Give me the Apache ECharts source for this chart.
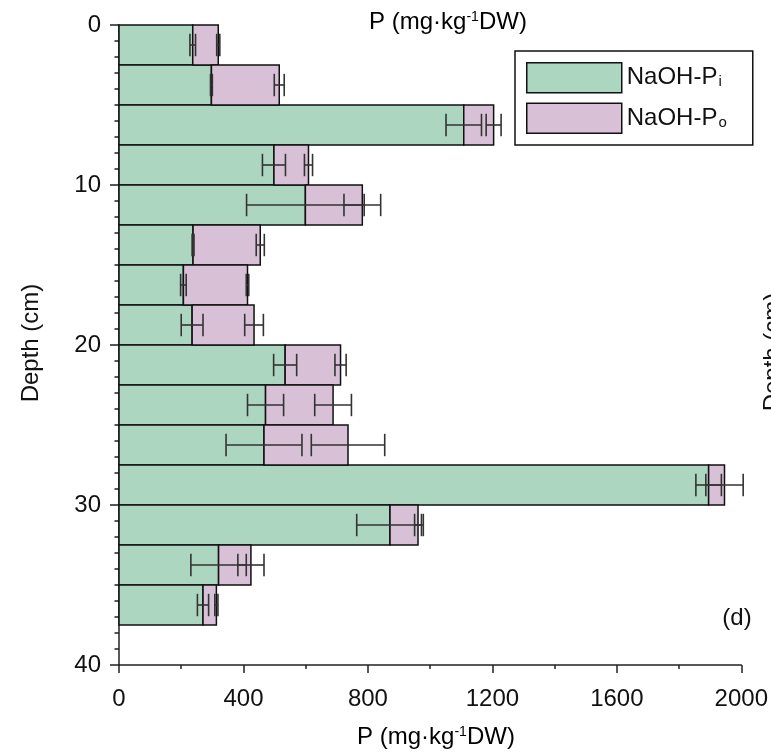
<!DOCTYPE html>
<html>
<head>
<meta charset="UTF-8">
<title>NaOH-P depth profile</title>
<script src="https://cdn.jsdelivr.net/npm/echarts@6/dist/echarts.min.js"></script>
<style>
  html, body { margin: 0; padding: 0; background: #fff; }
  #chart { width: 771px; height: 753px; }
</style>
</head>
<body>
<div id="chart"></div>
<script>
// top of each 2.5 cm layer
var depthTop = [0, 2.5, 5, 7.5, 10, 12.5, 15, 17.5, 20, 22.5, 25, 27.5, 30, 32.5, 35];
var layerThickness = 2.5;
// NaOH-Pi and NaOH-Po (mg/kg DW) with their error values
var naohPi = [237, 297, 1108, 498, 599, 238, 207, 235, 534, 471, 466, 1895, 871, 320, 270];
var naohPo = [82, 218, 96, 111, 183, 216, 206, 199, 178, 217, 270, 51, 90, 104, 43];
var piErr = [9, 3, 57, 37, 189, 3, 9, 35, 37, 58, 122, 41, 107, 89, 18];
var poErr = [5, 16, 24, 13, 59, 13, 4, 30, 18, 59, 118, 60, 11, 42, 5];
var xTicks = [0, 400, 800, 1200, 1600, 2000];
var yTicks = [0, 10, 20, 30, 40];

var FONT = '"Liberation Sans", Arial, sans-serif';

var piBars = [], poBars = [], piErrData = [], poErrData = [];
for (var i = 0; i < depthTop.length; i++) {
    var d = depthTop[i];
    var total = naohPi[i] + naohPo[i];
    piBars.push([0, naohPi[i], d, d + layerThickness]);
    poBars.push([naohPi[i], total, d, d + layerThickness]);
    piErrData.push([naohPi[i], piErr[i], d + layerThickness / 2]);
    poErrData.push([total, poErr[i], d + layerThickness / 2]);
}

function renderBar(params, api) {
    var p0 = api.coord([api.value(0), api.value(2)]);
    var p1 = api.coord([api.value(1), api.value(3)]);
    return {
        type: 'rect',
        shape: { x: p0[0], y: p0[1], width: p1[0] - p0[0], height: p1[1] - p0[1] },
        style: { fill: api.visual('color'), stroke: '#111', lineWidth: 1.5 }
    };
}

function renderErr(params, api) {
    var v = api.value(0), e = api.value(1), d = api.value(2);
    var a = api.coord([v - e, d]);
    var b = api.coord([v + e, d]);
    var cap = api.size([0, 0.7])[1];
    var st = { stroke: '#333', lineWidth: 1.6 };
    return {
        type: 'group',
        children: [
            { type: 'line', shape: { x1: a[0], y1: a[1], x2: b[0], y2: b[1] }, style: st },
            { type: 'line', shape: { x1: a[0], y1: a[1] - cap, x2: a[0], y2: a[1] + cap }, style: st },
            { type: 'line', shape: { x1: b[0], y1: b[1] - cap, x2: b[0], y2: b[1] + cap }, style: st }
        ]
    };
}

var unitRich = {
    n: { fontSize: 24, fontFamily: FONT, color: '#111' },
    sup: { fontSize: 14, fontFamily: FONT, color: '#111', verticalAlign: 'top' }
};

var chart = echarts.init(document.getElementById('chart'));
var option = {
    animation: false,
    grid: { left: 119, top: 25, width: 624, height: 640, containLabel: false },
    xAxis: {
        type: 'value', position: 'bottom', min: xTicks[0], max: xTicks[xTicks.length - 1], interval: 400,
        axisLine: { show: true, onZero: false, lineStyle: { color: '#222', width: 1.5 } },
        axisTick: { show: true, length: 8, lineStyle: { color: '#222', width: 1.5 } },
        minorTick: { show: true, splitNumber: 2, length: 4, lineStyle: { color: '#222', width: 1.5 } },
        splitLine: { show: false },
        axisLabel: { fontSize: 24, fontFamily: FONT, color: '#111', margin: 22, formatter: function (v) { return String(v); } }
    },
    yAxis: {
        type: 'value', inverse: true, min: yTicks[0], max: yTicks[yTicks.length - 1], interval: 10,
        axisLine: { show: true, onZero: false, lineStyle: { color: '#222', width: 1.5 } },
        axisTick: { show: true, length: 9, lineStyle: { color: '#222', width: 1.5 } },
        minorTick: { show: true, splitNumber: 10, length: 4.5, lineStyle: { color: '#222', width: 1.5 } },
        splitLine: { show: false },
        axisLabel: { fontSize: 24, fontFamily: FONT, color: '#111', margin: 18, padding: [8, 0, 0, 0], formatter: function (v) { return String(v); } }
    },
    legend: {
        data: ['NaOH-Pi', 'NaOH-Po'],
        orient: 'vertical',
        left: 515, top: 51,
        padding: [11, 26, 11, 11],
        itemWidth: 95, itemHeight: 30,
        itemGap: 9,
        icon: 'rect',
        borderColor: '#111', borderWidth: 1.5,
        itemStyle: { borderColor: '#111', borderWidth: 1.5 },
        formatter: function (name) {
            return '{n|NaOH-P}{s|' + (name === 'NaOH-Pi' ? 'i' : 'o') + '}';
        },
        textStyle: {
            rich: {
                n: { fontSize: 24, fontFamily: FONT, color: '#111', lineHeight: 24, verticalAlign: 'top' },
                s: { fontSize: 15, fontFamily: FONT, color: '#111', lineHeight: 15, verticalAlign: 'bottom', padding: [12, 0, 0, 1] }
            }
        }
    },
    graphic: [
        { type: 'text', style: { text: '{n|P (mg·kg}{sup|-1}{n|DW)}', rich: unitRich, x: 448, y: 22, align: 'center', verticalAlign: 'middle' } },
        { type: 'text', style: { text: '{n|P (mg·kg}{sup|-1}{n|DW)}', rich: unitRich, x: 436, y: 737, align: 'center', verticalAlign: 'middle' } },
        { type: 'text', x: 31, y: 343, rotation: Math.PI / 2, style: { text: 'Depth (cm)', fontSize: 24, fontFamily: FONT, fill: '#111', align: 'center', verticalAlign: 'middle' } },
        { type: 'text', x: 773, y: 352, rotation: Math.PI / 2, style: { text: 'Depth (cm)', fontSize: 24, fontFamily: FONT, fill: '#111', align: 'center', verticalAlign: 'middle' } },
        { type: 'text', style: { text: '(d)', x: 737, y: 618, fontSize: 24, fontFamily: FONT, fill: '#111', align: 'center', verticalAlign: 'middle' } }
    ],
    series: [
        { name: 'NaOH-Pi', type: 'custom', renderItem: renderBar, itemStyle: { color: '#add6c1' }, encode: { x: [0, 1], y: [2, 3] }, data: piBars, z: 2 },
        { name: 'NaOH-Po', type: 'custom', renderItem: renderBar, itemStyle: { color: '#d8c0d6' }, encode: { x: [0, 1], y: [2, 3] }, data: poBars, z: 2 },
        { name: 'Pi error', type: 'custom', renderItem: renderErr, encode: { x: 0, y: 2 }, data: piErrData, z: 3, silent: true },
        { name: 'Po error', type: 'custom', renderItem: renderErr, encode: { x: 0, y: 2 }, data: poErrData, z: 3, silent: true }
    ]
};
chart.setOption(option);
</script>
</body>
</html>
